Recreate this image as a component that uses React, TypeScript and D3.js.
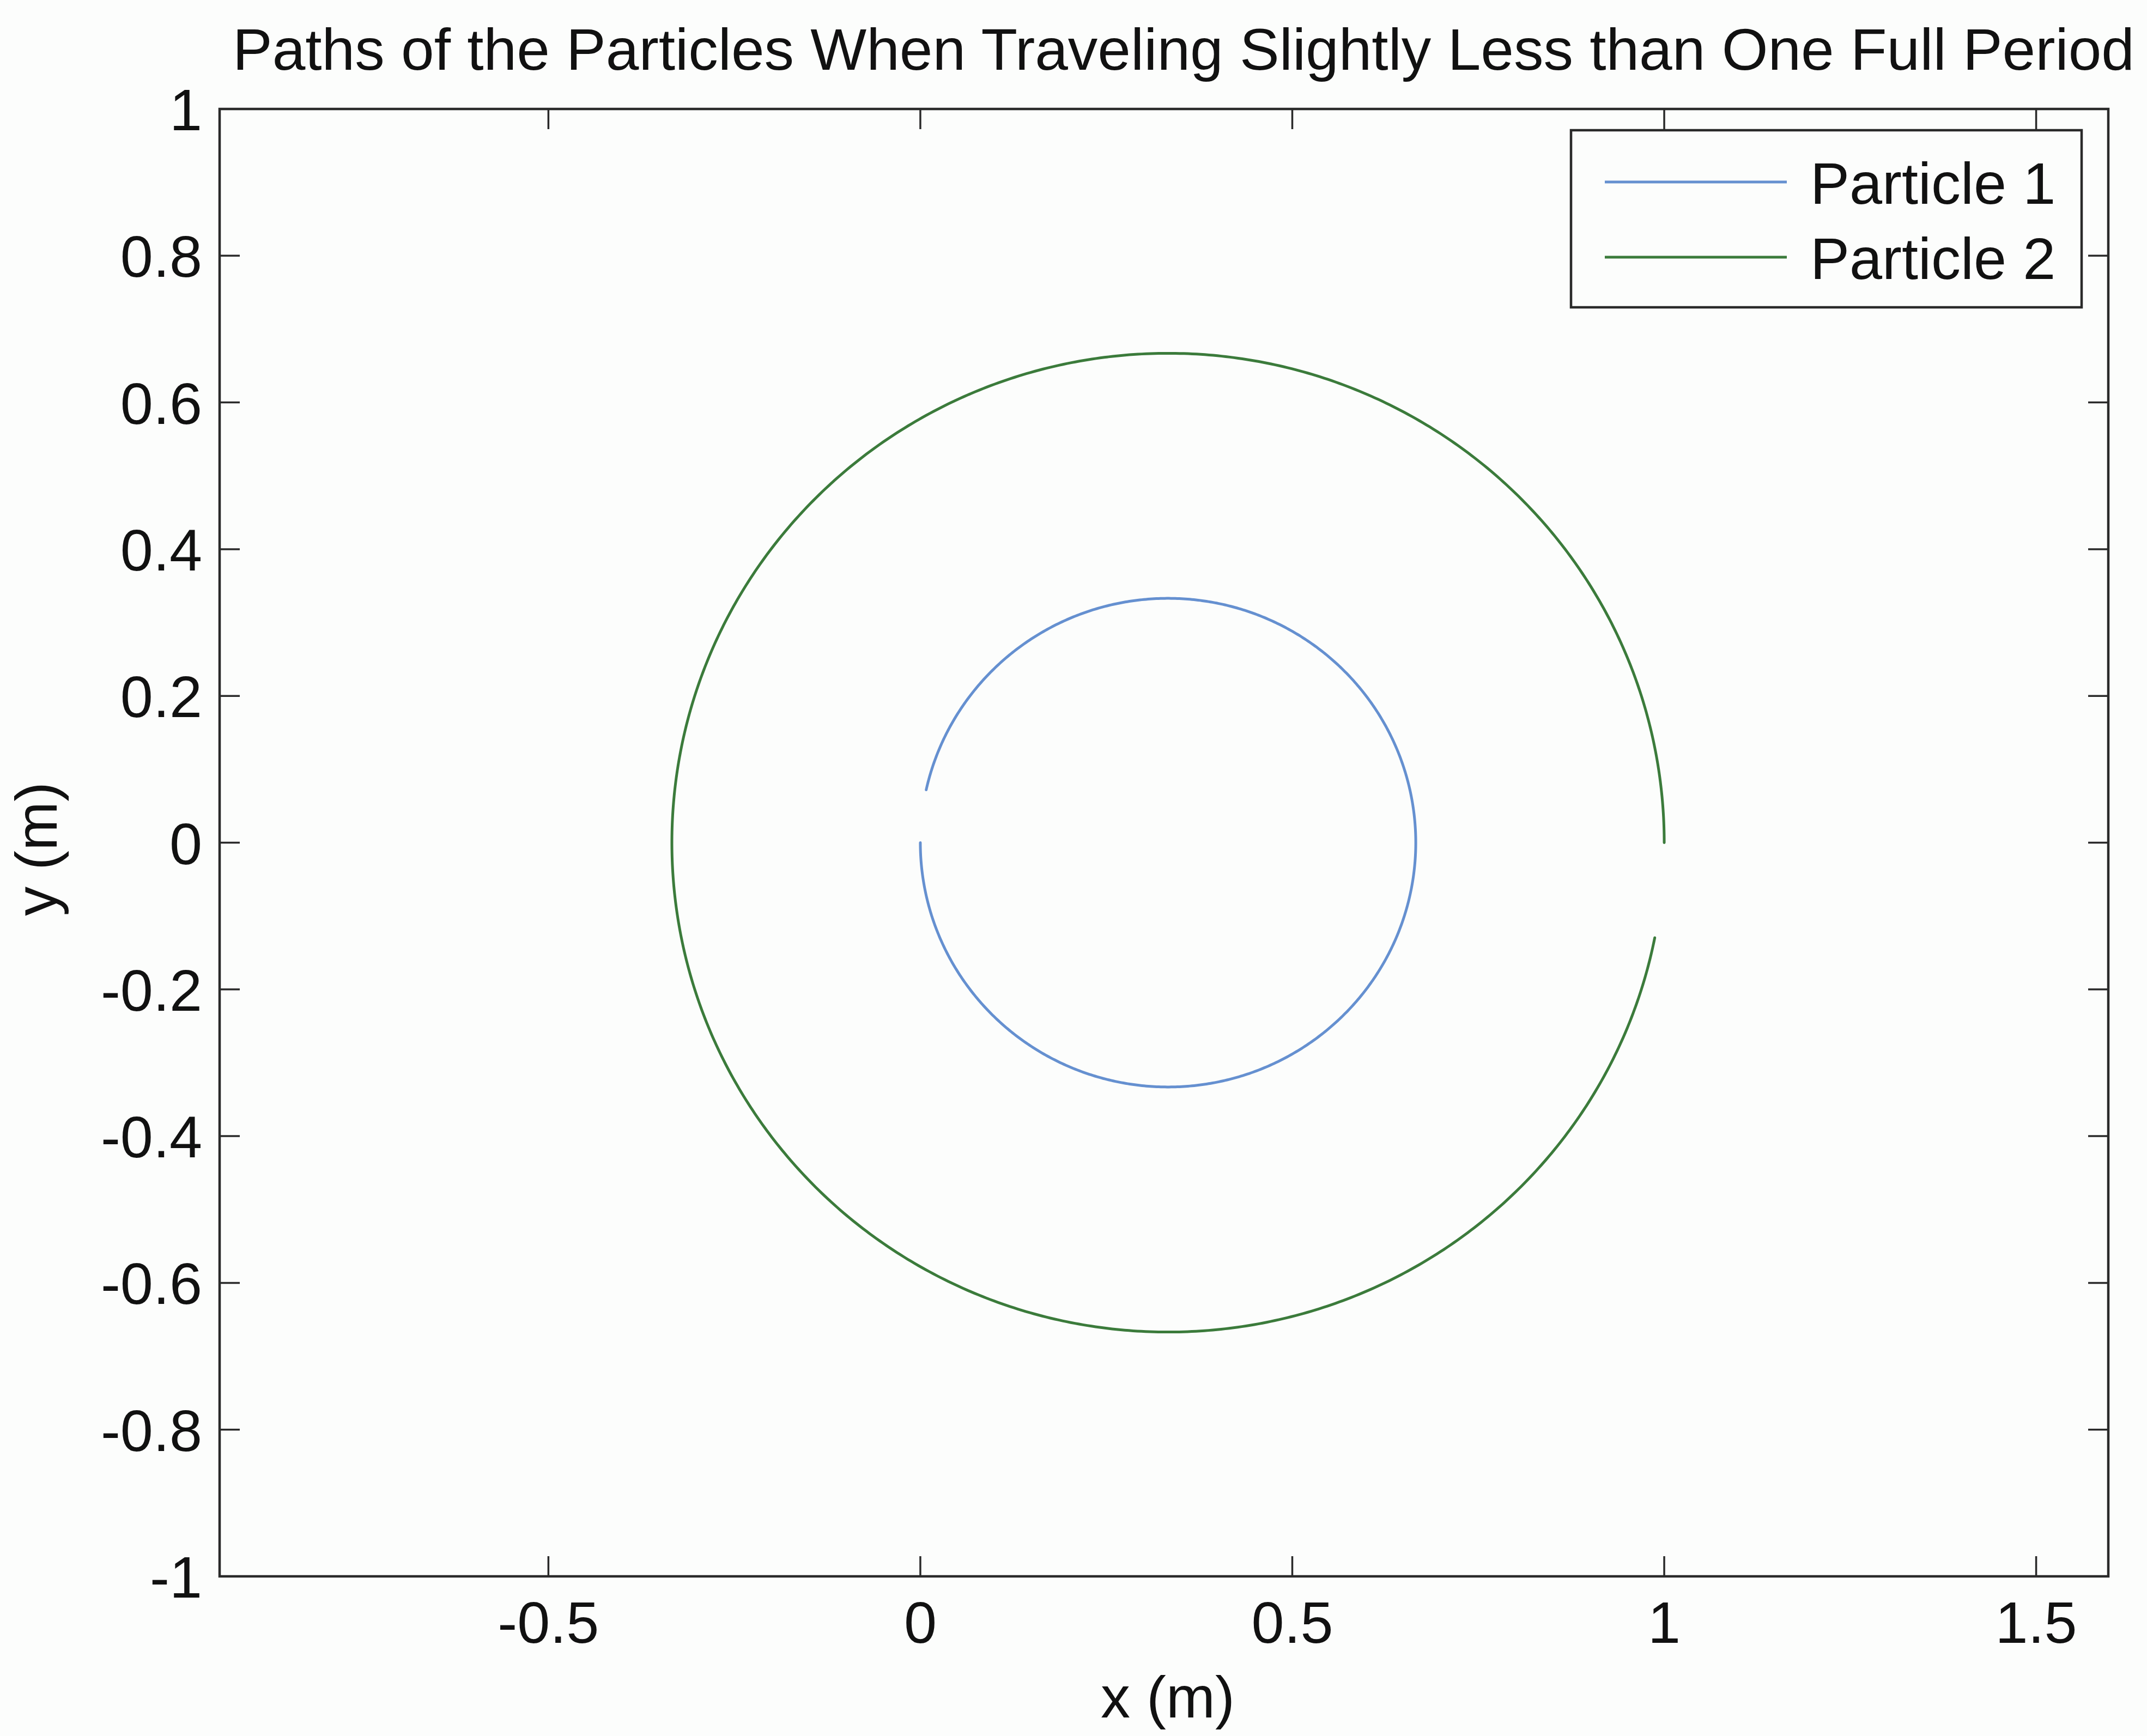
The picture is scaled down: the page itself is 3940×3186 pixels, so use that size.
import React from "react";
import * as d3 from "d3";

// ---- Data ----
const particleNames = ["Particle 1", "Particle 2"];
const particleColors = ["#6590d0", "#3b7b3b"];
// circular paths: centre (m), radius (m), start / end angle (deg, counter-clockwise)
const centerX = [0.333, 0.333];
const centerY = [0, 0];
const radius = [0.333, 0.667];
const startAngleDeg = [180, 0];
const endAngleDeg = [527.5, 348.8];

const xTicks = [-0.5, 0, 0.5, 1, 1.5];
const xTickLabels = ["-0.5", "0", "0.5", "1", "1.5"];
const yTicks = [1, 0.8, 0.6, 0.4, 0.2, 0, -0.2, -0.4, -0.6, -0.8, -1];
const yTickLabels = ["1", "0.8", "0.6", "0.4", "0.2", "0", "-0.2", "-0.4", "-0.6", "-0.8", "-1"];
const xDomain = [-0.942, 1.597];
const yDomain = [-1, 1];

const titleText = "Paths of the Particles When Traveling Slightly Less than One Full Period";
const xLabelText = "x (m)";
const yLabelText = "y (m)";

// ---- Layout ----
const W = 3940;
const H = 3186;
const L = 403;
const R = 3869;
const T = 200;
const B = 2893;
const FONT = "'Liberation Sans', Arial, Helvetica, sans-serif";
const FS = 108;
const TICK = 37;
const AXC = "#2a2a2a";

export default function App() {
  const x = d3.scaleLinear().domain(xDomain).range([L, R]);
  const y = d3.scaleLinear().domain(yDomain).range([B, T]);

  const line = d3
    .line<[number, number]>()
    .x((d) => x(d[0]))
    .y((d) => y(d[1]));

  const paths = particleNames.map((_, i) => {
    const a0 = (startAngleDeg[i] * Math.PI) / 180;
    const a1 = (endAngleDeg[i] * Math.PI) / 180;
    const n = 720;
    const pts: [number, number][] = d3.range(n + 1).map((k) => {
      const a = a0 + ((a1 - a0) * k) / n;
      return [centerX[i] + radius[i] * Math.cos(a), centerY[i] + radius[i] * Math.sin(a)];
    });
    return line(pts) as string;
  });

  const legL = 2883;
  const legR = 3820;
  const legT = 239;
  const legB = 564;
  const legRowY = [334, 472];

  return (
    <svg
      width={W}
      height={H}
      viewBox={`0 0 ${W} ${H}`}
      style={{ position: "absolute", left: 0, top: 0, background: "#fcfdfc" }}
      fontFamily={FONT}
    >
      <rect x={0} y={0} width={W} height={H} fill="#fcfdfc" />
      {/* title */}
      <text x={427} y={128} fontSize={FS} textLength={3490} lengthAdjust="spacingAndGlyphs" fill="#111">
        {titleText}
      </text>

      {/* data */}
      <g fill="none" strokeWidth={5} strokeLinejoin="round" strokeLinecap="round">
        {paths.map((p, i) => (
          <path key={i} d={p} stroke={particleColors[i]} />
        ))}
      </g>

      {/* axes box */}
      <rect x={L} y={T} width={R - L} height={B - T} fill="none" stroke={AXC} strokeWidth={4.5} />

      {/* ticks */}
      <g stroke={AXC} strokeWidth={3.5}>
        {xTicks.map((t, i) => (
          <g key={i}>
            <line x1={x(t)} x2={x(t)} y1={B} y2={B - TICK} />
            <line x1={x(t)} x2={x(t)} y1={T} y2={T + TICK} />
          </g>
        ))}
        {yTicks.map((t, i) => (
          <g key={i}>
            <line x1={L} x2={L + TICK} y1={y(t)} y2={y(t)} />
            <line x1={R} x2={R - TICK} y1={y(t)} y2={y(t)} />
          </g>
        ))}
      </g>

      <g fontSize={FS} fill="#111">
        {xTicks.map((t, i) => (
          <text key={i} x={x(t)} y={3015} textAnchor="middle">
            {xTickLabels[i]}
          </text>
        ))}
        {yTicks.map((t, i) => (
          <text key={i} x={371} y={y(t) + 39} textAnchor="end">
            {yTickLabels[i]}
          </text>
        ))}
      </g>

      {/* axis labels */}
      <text x={2143} y={3152} fontSize={FS} textAnchor="middle" fill="#111">
        {xLabelText}
      </text>
      <text
        transform={`translate(104,1558) rotate(-90)`}
        fontSize={FS}
        textAnchor="middle"
        fill="#111"
      >
        {yLabelText}
      </text>

      {/* legend */}
      <rect x={legL} y={legT} width={legR - legL} height={legB - legT} fill="#fcfdfc" stroke={AXC} strokeWidth={4.5} />
      {particleNames.map((name, i) => (
        <g key={i}>
          <line x1={2945} x2={3279} y1={legRowY[i]} y2={legRowY[i]} stroke={particleColors[i]} strokeWidth={5} />
          <text x={3322} y={legRowY[i] + 40} fontSize={FS} fill="#111">
            {name}
          </text>
        </g>
      ))}
    </svg>
  );
}
